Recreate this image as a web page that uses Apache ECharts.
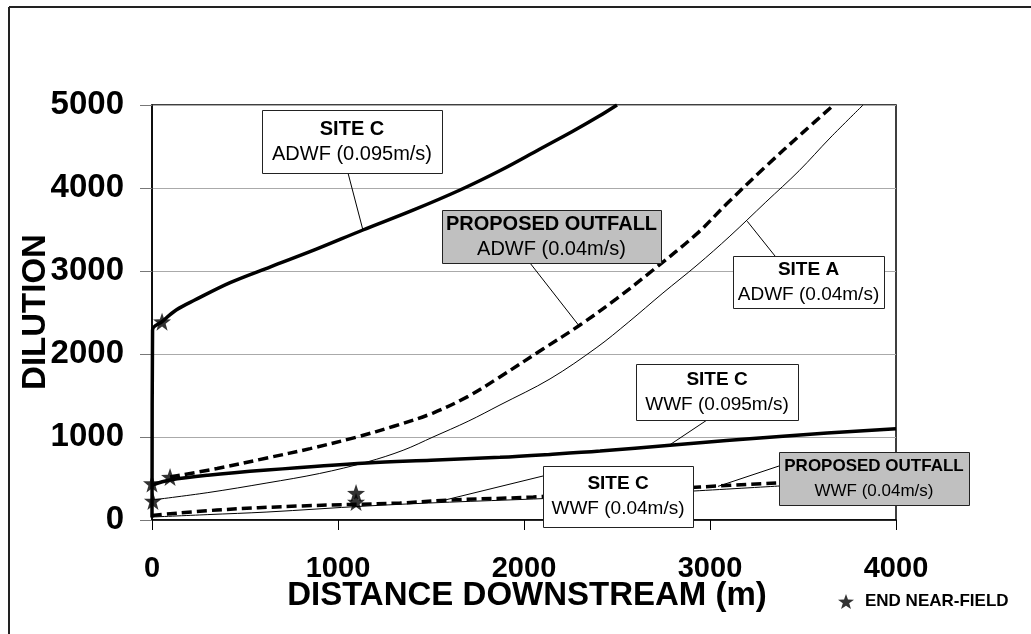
<!DOCTYPE html>
<html><head><meta charset="utf-8">
<script src="https://cdn.jsdelivr.net/npm/echarts@6/dist/echarts.min.js"></script>
<style>html,body{margin:0;padding:0;background:#fff}#c{width:1031px;height:634px}</style>
</head><body><div id="c"></div>
<script>
// ---- data ----
const xTicks = [0, 1000, 2000, 3000, 4000];
const yTicks = [0, 1000, 2000, 3000, 4000, 5000];
const siteCAdwf095 = [[0, 30], [3, 2290], [54, 2390], [130, 2530], [230, 2650], [420, 2860], [634, 3048], [880, 3260], [1134, 3494], [1400, 3730], [1656, 3976], [1880, 4220], [2086, 4470], [2260, 4680], [2400, 4860], [2500, 5000]];
const proposedAdwf04 = [[97, 518], [350, 620], [618, 747], [850, 860], [1102, 1000], [1300, 1130], [1511, 1289], [1700, 1490], [1833, 1670], [2102, 2060], [2301, 2349], [2500, 2670], [2694, 3012], [2930, 3450], [3090, 3810], [3300, 4260], [3500, 4670], [3665, 5000]];
const siteAAdwf04 = [[0, 241], [300, 330], [618, 446], [900, 560], [1156, 699], [1350, 840], [1511, 1000], [1700, 1190], [1871, 1386], [2140, 1700], [2392, 2080], [2560, 2380], [2747, 2735], [2930, 3070], [3107, 3420], [3300, 3830], [3480, 4210], [3645, 4602], [3823, 5000]];
const siteCWwf095 = [[0, 422], [97, 482], [300, 540], [618, 602], [1156, 687], [1500, 720], [1871, 755], [2140, 790], [2409, 830], [2785, 900], [3392, 1010], [4000, 1100]];
const siteCWwf04 = [[0, 36], [300, 65], [618, 96], [1156, 169], [1600, 215], [2050, 253], [2500, 300], [2910, 349], [3376, 410]];
const proposedWwf04 = [[0, 55], [349, 120], [796, 169], [1333, 205], [1602, 241], [2050, 277], [2500, 340], [2946, 398], [3360, 446]];
const nearField = [[54, 2390], [0, 440], [97, 518], [5, 230], [1097, 325], [1097, 217]];

const FONT = 'Liberation Sans, Arial, sans-serif';
const STAR = 'path://M0,-10 L2.35,-3.24 L9.51,-3.09 L3.80,1.24 L5.88,8.09 L0,4 L-5.88,8.09 L-3.80,1.24 L-9.51,-3.09 L-2.35,-3.24 Z';

const chart = echarts.init(document.getElementById('c'), null, {renderer: 'canvas'});

function lineSeries(name, data, width, dashed) {
  return {
    name, type: 'line', data, symbol: 'none', smooth: 0.35,
    lineStyle: {color: '#000', width, type: dashed ? [10, 5] : 'solid'},
    silent: true, z: 3
  };
}

chart.setOption({
  animation: false,
  backgroundColor: '#fff',
  grid: {left: 152, right: 135, top: 105, bottom: 114, show: true, borderColor: '#000', borderWidth: 1.5, backgroundColor: 'transparent'},
  legend: {
    data: [{name: 'END NEAR-FIELD', icon: STAR}],
    left: 833, top: 588, itemWidth: 16, itemHeight: 16, itemGap: 8,
    textStyle: {fontFamily: FONT, fontWeight: 'bold', fontSize: 17, color: '#000', padding: [0, 0, 0, 6]}
  },
  xAxis: {
    type: 'value', min: xTicks[0], max: xTicks[xTicks.length - 1], interval: 1000,
    axisLine: {show: true, lineStyle: {color: '#000', width: 1.5}},
    axisTick: {show: true, length: 10, lineStyle: {color: '#000'}},
    splitLine: {show: false},
    axisLabel: {fontFamily: FONT, fontWeight: 'bold', fontSize: 29, color: '#000', margin: 34, formatter: v => String(v)}
  },
  yAxis: {
    type: 'value', min: yTicks[0], max: yTicks[yTicks.length - 1], interval: 1000,
    axisLine: {show: true, lineStyle: {color: '#000', width: 1.5}},
    axisTick: {show: true, length: 12, lineStyle: {color: '#777'}},
    splitLine: {show: true, lineStyle: {color: '#aaa', width: 1}},
    axisLabel: {fontFamily: FONT, fontWeight: 'bold', fontSize: 33, color: '#000', margin: 28, formatter: v => String(v)}
  },
  series: [
    lineSeries('SITE C ADWF (0.095m/s)', siteCAdwf095, 3.5, false),
    lineSeries('PROPOSED OUTFALL ADWF (0.04m/s)', proposedAdwf04, 3.5, true),
    lineSeries('SITE A ADWF (0.04m/s)', siteAAdwf04, 1, false),
    lineSeries('SITE C WWF (0.095m/s)', siteCWwf095, 3.5, false),
    lineSeries('SITE C WWF (0.04m/s)', siteCWwf04, 1, false),
    lineSeries('PROPOSED OUTFALL WWF (0.04m/s)', proposedWwf04, 3.5, true),
    {name: 'END NEAR-FIELD', type: 'scatter', data: nearField, symbol: STAR, symbolSize: 18,
     itemStyle: {color: '#000'}, z: 5, silent: true}
  ]
});

// annotation boxes (pixel boxes, leader ends anchored to data coords)
const annots = [
  {x: 262, y: 110, w: 180, h: 63, fill: '#fff', fs: 20, t: 'SITE C', s: 'ADWF (0.095m/s)', from: [348, 173], to: [1134, 3494]},
  {x: 442, y: 210, w: 219, h: 53, fill: '#c0c0c0', fs: 20, t: 'PROPOSED OUTFALL', s: 'ADWF (0.04m/s)', from: [530, 263], to: [2296, 2340]},
  {x: 733, y: 256, w: 151, h: 52, fill: '#fff', fs: 19, t: 'SITE A', s: 'ADWF (0.04m/s)', from: [775, 256], to: [3200, 3600]},
  {x: 636, y: 364, w: 162, h: 56, fill: '#fff', fs: 19, t: 'SITE C', s: 'WWF (0.095m/s)', from: [707, 420], to: [2780, 900]},
  {x: 543, y: 466, w: 150, h: 61, fill: '#fff', fs: 19, t: 'SITE C', s: 'WWF (0.04m/s)', from: [543, 476], to: [1565, 235]},
  {x: 779, y: 452, w: 190, h: 53, fill: '#c0c0c0', fs: 17, t: 'PROPOSED OUTFALL', s: 'WWF (0.04m/s)', from: [779, 466], to: [3043, 405]}
];
const g = [];
// outer frame (left & top)
g.push({type: 'line', shape: {x1: 9, y1: 7, x2: 9, y2: 634}, style: {stroke: '#222', lineWidth: 2}, z: 10});
g.push({type: 'line', shape: {x1: 9, y1: 7, x2: 1031, y2: 7}, style: {stroke: '#222', lineWidth: 2}, z: 10});
annots.forEach(a => {
  const p = chart.convertToPixel({gridIndex: 0}, a.to);
  g.push({type: 'line', shape: {x1: a.from[0], y1: a.from[1], x2: p[0], y2: p[1]}, style: {stroke: '#000', lineWidth: 1}, z: 20});
  g.push({type: 'rect', shape: {x: a.x + 0.5, y: a.y + 0.5, width: a.w, height: a.h}, style: {fill: a.fill, stroke: '#222', lineWidth: 1}, z: 21});
  g.push({type: 'text', x: a.x + a.w / 2, y: a.y + a.h / 2, z: 22,
    style: {text: '{b|' + a.t + '}\n{n|' + a.s + '}', align: 'center', verticalAlign: 'middle',
      rich: {b: {fontFamily: FONT, fontWeight: 'bold', fontSize: a.fs, lineHeight: 25, fill: '#000', align: 'center'},
             n: {fontFamily: FONT, fontSize: a.fs, lineHeight: 25, fill: '#000', align: 'center'}}}});
});
// axis titles
g.push({type: 'text', x: 527, y: 596, z: 10, style: {text: 'DISTANCE DOWNSTREAM (m)', fontFamily: FONT, fontWeight: 'bold', fontSize: 33, fill: '#000', align: 'center', verticalAlign: 'middle'}});
g.push({type: 'text', x: 36, y: 312, rotation: Math.PI / 2, z: 10, style: {text: 'DILUTION', fontFamily: FONT, fontWeight: 'bold', fontSize: 33, fill: '#000', align: 'center', verticalAlign: 'middle'}});
chart.setOption({graphic: g});
</script></body></html>
